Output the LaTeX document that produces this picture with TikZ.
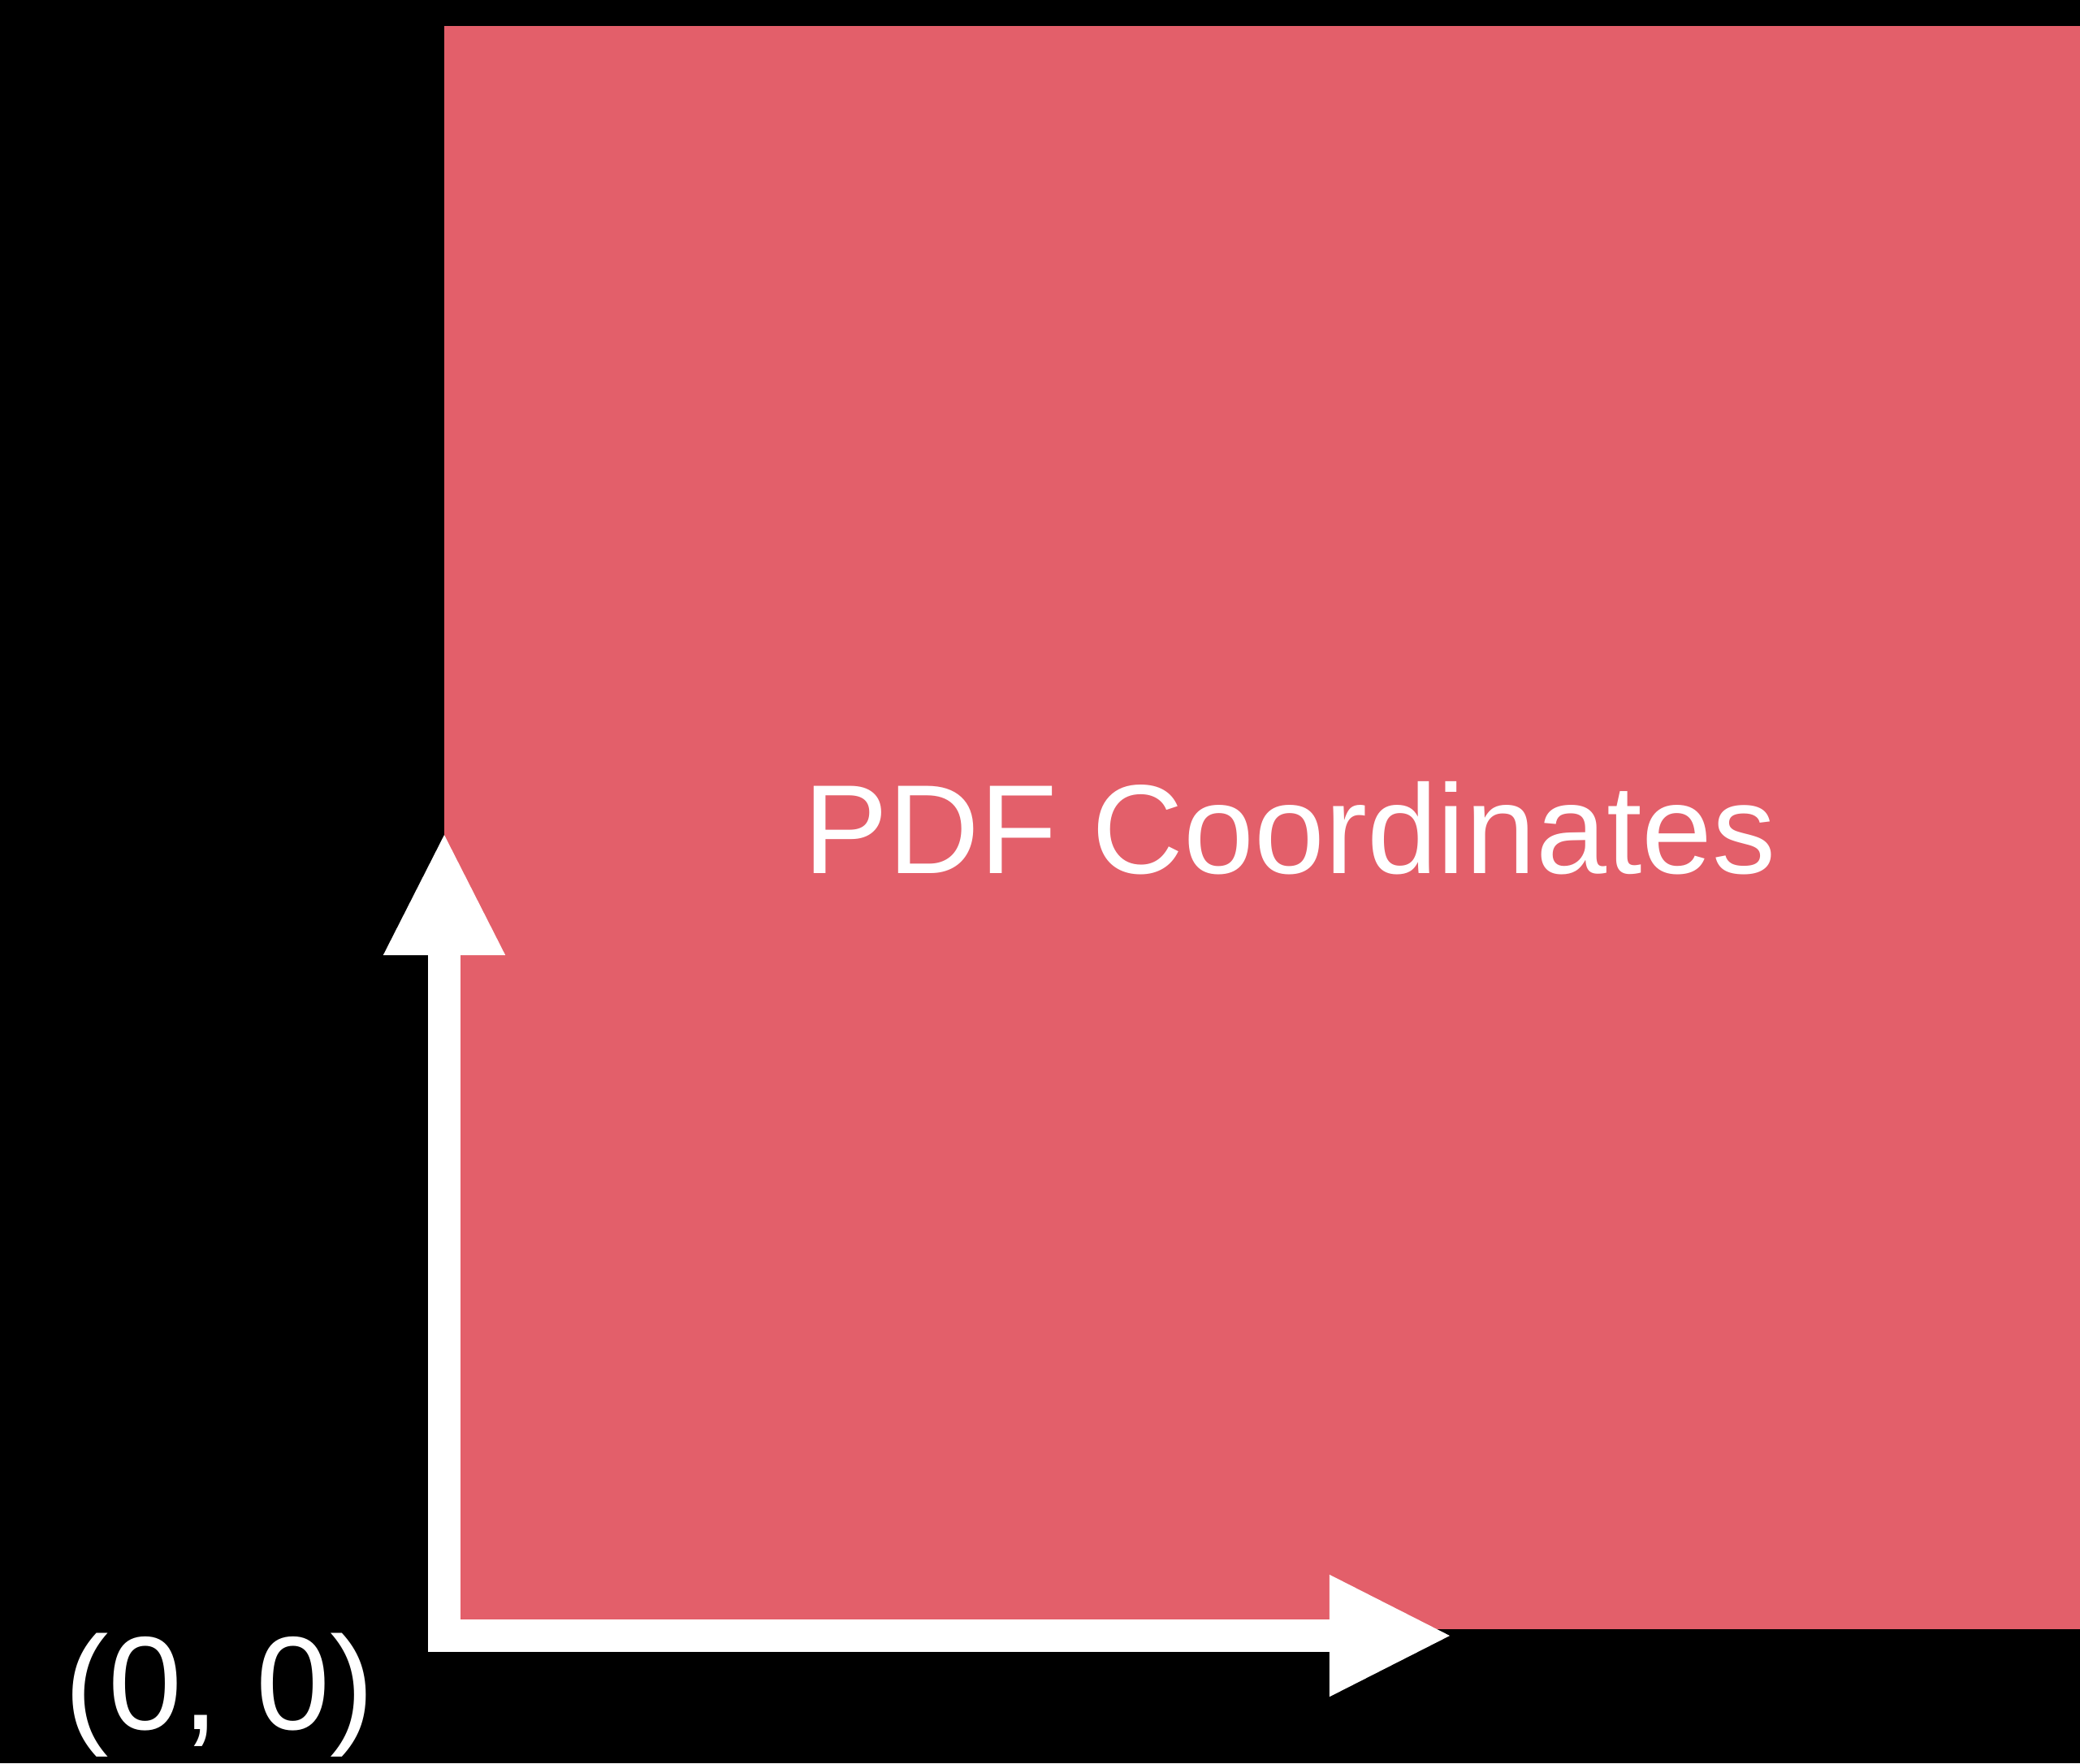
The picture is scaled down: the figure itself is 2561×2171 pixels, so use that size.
\documentclass[tikz,border=0pt]{standalone}
\usepackage{fontspec}
\setmainfont{Liberation Sans}
\usepackage{tikz}
\usetikzlibrary{positioning,arrows.meta}
\definecolor{pagered}{RGB}{227,95,106}

\begin{document}
\begin{tikzpicture}[
    x=0.01cm, y=-0.01cm,
    axis/.style={
      draw=white, line width=0.4cm,
      -{Triangle[length=1.52cm, width=1.38cm]}
    },
    clabel/.style={text=white, inner sep=0pt, anchor=base,
      font=\fontsize{44.4}{53}\selectfont},
  ]
    %── Background and page ─────────────────────────────────────────────
    \fill[black] (0,0) rectangle (2561,2171);
    \useasboundingbox (0,0) rectangle (2561,2171);
    \fill[pagered] (547,32) rectangle (2561,2006);

    %── Labels ──────────────────────────────────────────────────────────
    \node[clabel] (title) at (1588,1075) {PDF Coordinates};
    \node[clabel, font=\fontsize{46.5}{55}\selectfont] (zero) at (270,2129) {(0, 0)};

    %── Axes ────────────────────────────────────────────────────────────
    \coordinate (origin) at (547,2014);
    \coordinate (ytip)   at (547,1024);
    \coordinate (xtip)   at (1789,2014);
    \draw[axis] ([yshift=-0.2cm]origin) -- (ytip);
    \draw[axis] ([xshift=-0.2cm]origin) -- (xtip);

  \end{tikzpicture}
\end{document}
